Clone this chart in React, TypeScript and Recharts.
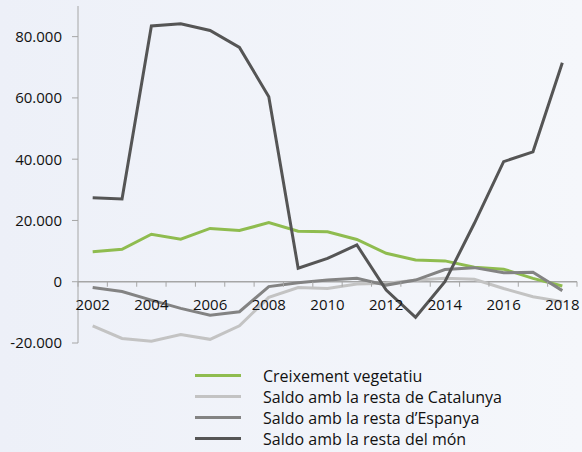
import React from "react";
import { LineChart, Line, XAxis, YAxis, ReferenceLine, Legend } from "recharts";

const years = [
  "2002", "2003", "2004", "2005", "2006", "2007", "2008", "2009", "2010",
  "2011", "2012", "2013", "2014", "2015", "2016", "2017", "2018",
];

// values
const creixement = [9800, 10600, 15500, 13900, 17400, 16700, 19300, 16500, 16300, 13800, 9300, 7100, 6800, 4700, 4100, 1100, -1400];
const restaCatalunya = [-14400, -18500, -19400, -17200, -18800, -14400, -5100, -1900, -2200, -750, -500, 500, 1100, 800, -2200, -4900, -6500];
const restaEspanya = [-1900, -3200, -6000, -8700, -10900, -9800, -1600, -300, 550, 1100, -1100, 550, 4000, 4600, 2900, 3100, -2900];
const restaMon = [27400, 27000, 83500, 84200, 82000, 76500, 60400, 4400, 7600, 12000, -2700, -11600, 0, 19000, 39200, 42400, 71500];

const yTicks = [-20000, 0, 20000, 40000, 60000, 80000];
const Y_MIN = -20000;
const Y_MAX = 90000;

const series = [
  { key: "creixement", name: "Creixement vegetatiu", color: "#8fbc4f" },
  { key: "catalunya", name: "Saldo amb la resta de Catalunya", color: "#c3c3c3" },
  { key: "espanya", name: "Saldo amb la resta d\u2019Espanya", color: "#838383" },
  { key: "mon", name: "Saldo amb la resta del món", color: "#555555" },
];

const data = years.map((year, i) => ({
  year,
  creixement: creixement[i],
  catalunya: restaCatalunya[i],
  espanya: restaEspanya[i],
  mon: restaMon[i],
}));

const W = 582;
const H = 452;
const M = { top: 6, right: 5, bottom: 108, left: 0 };
const PLOT_H = H - M.top - M.bottom - 1;
const PLOT_W = W - M.left - M.right - 78;
const BAND = PLOT_W / years.length;
const FONT = "'Open Sans', sans-serif";

const fmt = (v: number) => {
  const s = Math.abs(v).toString().replace(/\B(?=(\d{3})+(?!\d))/g, ".");
  return v < 0 ? "-" + s : s;
};

// x axis sits on the zero line, ticks on category boundaries
const XTick = (props: any) => {
  const { x, y, payload, index } = props;
  const zeroY = y - ((0 - Y_MIN) / (Y_MAX - Y_MIN)) * PLOT_H;
  return (
    <g>
      {index === 0 && (
        <line x1={x - BAND / 2} x2={x - BAND / 2} y1={zeroY} y2={zeroY + 5} stroke="#a6a6a6" />
      )}
      <line x1={x + BAND / 2} x2={x + BAND / 2} y1={zeroY} y2={zeroY + 5} stroke="#a6a6a6" />
      {index % 2 === 0 && (
        <text x={x} y={zeroY + 28} textAnchor="middle" fontSize={15} fill="#111" fontFamily={FONT}>
          {payload.value}
        </text>
      )}
    </g>
  );
};

const LegendBox = () => (
  <div style={{ fontFamily: FONT, fontSize: 16, color: "#111" }}>
    {series.map((s) => (
      <div key={s.key} style={{ display: "flex", alignItems: "center", height: 21 }}>
        <span style={{ display: "inline-block", width: 46, height: 3, background: s.color, marginRight: 22 }} />
        <span>{s.name}</span>
      </div>
    ))}
  </div>
);

export default function App() {
  return (
    <div
      style={{
        width: W,
        height: H,
        position: "relative",
        background: "linear-gradient(to right, #edf0f8, #f5f7fb)",
      }}
    >
      <style>{`body{margin:0}`}</style>
      <LineChart width={W} height={H} data={data} margin={M}>
        <XAxis
          dataKey="year"
          height={1}
          padding={{ left: BAND / 2, right: BAND / 2 }}
          axisLine={false}
          tickLine={false}
          tickSize={0}
          tickMargin={0}
          interval={0}
          tick={<XTick />}
        />
        <YAxis
          width={78}
          domain={[Y_MIN, Y_MAX]}
          ticks={yTicks}
          allowDataOverflow
          tickFormatter={fmt}
          axisLine={{ stroke: "#a6a6a6" }}
          tickLine={{ stroke: "#a6a6a6" }}
          tickSize={6}
          tickMargin={10}
          tick={{ fontSize: 15, fill: "#111", fontFamily: FONT }}
        />
        <ReferenceLine y={0} stroke="#a6a6a6" strokeWidth={1.5} />
        {series.map((s) => (
          <Line
            key={s.key}
            type="linear"
            dataKey={s.key}
            name={s.name}
            stroke={s.color}
            strokeWidth={3}
            dot={false}
            isAnimationActive={false}
          />
        ))}
        <Legend
          layout="vertical"
          align="center"
          verticalAlign="middle"
          content={<LegendBox />}
          wrapperStyle={{ position: "absolute", left: 195, top: 365, width: 380 }}
        />
      </LineChart>
    </div>
  );
}
